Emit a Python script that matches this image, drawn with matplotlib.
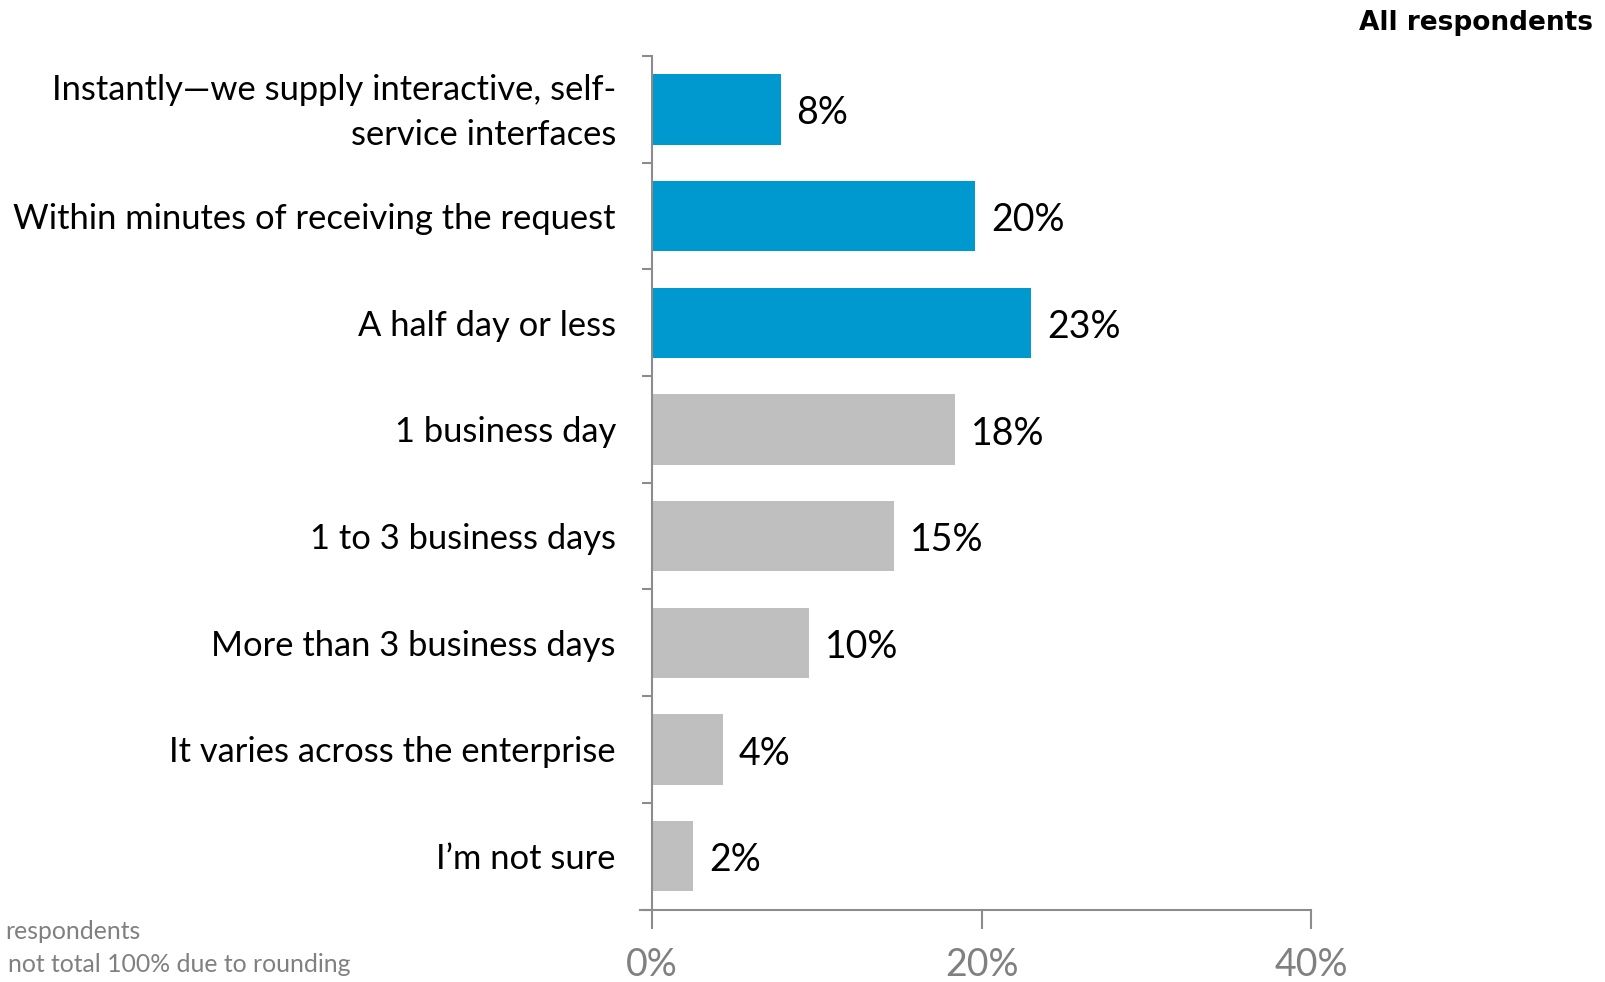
import numpy as np
import matplotlib
matplotlib.use("Agg")
import matplotlib.pyplot as plt
from matplotlib.transforms import ScaledTranslation

# datos
categorias = [
    "Instantly\u2014we supply interactive, self-\nservice interfaces",
    "Within minutes of receiving the request",
    "A half day or less",
    "1 business day",
    "1 to 3 business days",
    "More than 3 business days",
    "It varies across the enterprise",
    "I\u2019m not sure",
]
valores = [7.8, 19.6, 23.0, 18.4, 14.7, 9.5, 4.3, 2.5]
etiquetas = ["8%", "20%", "23%", "18%", "15%", "10%", "4%", "2%"]
resaltados = [True, True, True, False, False, False, False, False]
xticks = [0, 20, 40]
xtick_labels = ["0%", "20%", "40%"]

azul = "#0099CF"
gris = "#BFBFBF"
gris_eje = "#8C8C8C"

fig = plt.figure(figsize=(16.06, 9.82), dpi=100)
ax = fig.add_axes([0.406, 0.0738, 0.4104, 0.8692])

pos = np.arange(len(categorias))
colores = [azul if r else gris for r in resaltados]
ax.barh(pos, valores, height=0.66, color=colores, zorder=2)

for p, v, t in zip(pos, valores, etiquetas):
    ax.annotate(t, (v, p), xytext=(11.5, -3), textcoords="offset points",
                va="center", ha="left", fontsize=27, family="Lato", color="black")

ax.set_xlim(0, 40)
ax.set_ylim(len(categorias) - 0.5, -0.5)

# ticks mayores en los limites, etiquetas en ticks menores
ax.set_yticks(np.arange(-0.5, len(categorias)), labels=[])
ax.set_yticks(pos, labels=categorias, minor=True)
ax.tick_params(axis="y", which="major", direction="out", length=7, width=1.5, color=gris_eje)
ax.tick_params(axis="y", which="minor", length=0, pad=26)
for lab in ax.get_yticklabels(minor=True):
    lab.set_fontsize(24.8)
    lab.set_family("Lato")
    lab.set_linespacing(1.48)
# la etiqueta de dos lineas queda un poco baja
lab0 = ax.get_yticklabels(minor=True)[0]
lab0.set_transform(lab0.get_transform() + ScaledTranslation(0, 0.06, fig.dpi_scale_trans))

ax.set_xticks(xticks, labels=xtick_labels)
ax.tick_params(axis="x", direction="out", length=14, width=1.5, color=gris_eje, pad=13)
for lab in ax.get_xticklabels():
    lab.set_fontsize(27)
    lab.set_family("Lato")
    lab.set_color("#808080")

for s in ["top", "right"]:
    ax.spines[s].set_visible(False)
for s in ["left", "bottom"]:
    ax.spines[s].set_color(gris_eje)
    ax.spines[s].set_linewidth(1.5)
ax.spines["bottom"].set_bounds(-0.75, 40)
ax.spines["bottom"].set_clip_on(False)

fig.text(0.992, 0.977, "All respondents", ha="right", va="center",
         fontsize=19, fontweight="bold", family="DejaVu Sans")

fig.text(0.003, 0.051, "respondents", ha="left", va="center",
         fontsize=17.8, family="Lato", color="#808080")
fig.text(0.005, 0.018, "not total 100% due to rounding", ha="left", va="center",
         fontsize=17.8, family="Lato", color="#808080")

plt.savefig("out.png", dpi=100)
